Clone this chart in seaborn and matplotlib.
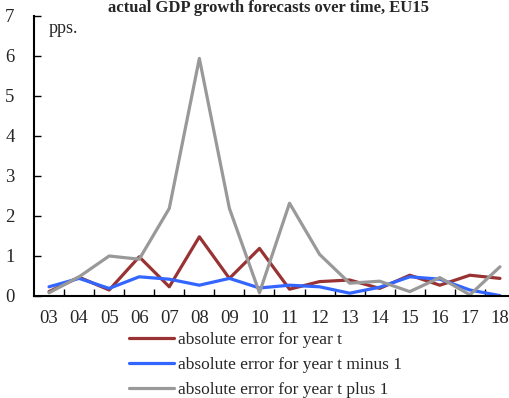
import seaborn as sns
import matplotlib.pyplot as plt
import pandas as pd

years = ['03', '04', '05', '06', '07', '08', '09', '10', '11', '12', '13', '14', '15', '16', '17', '18']
err_t = [0.11, 0.47, 0.15, 0.98, 0.23, 1.48, 0.44, 1.19, 0.17, 0.36, 0.40, 0.19, 0.52, 0.27, 0.52, 0.44]
err_t_minus_1 = [0.23, 0.44, 0.19, 0.48, 0.42, 0.27, 0.44, 0.20, 0.27, 0.23, 0.07, 0.22, 0.48, 0.42, 0.15, 0.01]
err_t_plus_1 = [0.08, 0.48, 1.00, 0.92, 2.19, 5.94, 2.19, 0.08, 2.32, 1.04, 0.32, 0.37, 0.11, 0.46, 0.03, 0.73]

labels = ['absolute error for year t', 'absolute error for year t minus 1', 'absolute error for year t plus 1']
colors = {labels[0]: '#993333', labels[1]: '#3366ff', labels[2]: '#999999'}

rows = []
for name, vals in zip(labels, [err_t, err_t_minus_1, err_t_plus_1]):
    for i, v in enumerate(vals):
        rows.append({'pos': i, 'value': v, 'series': name})
df = pd.DataFrame(rows)

sns.set_style('white')
plt.rcParams['font.family'] = ['Liberation Serif', 'DejaVu Serif']

fig = plt.figure(figsize=(5.1, 3.98), dpi=100)
ax = fig.add_axes([34 / 510, 102 / 398, 481 / 510, 280 / 398])
ax.patch.set_alpha(0)

sns.lineplot(data=df, x='pos', y='value', hue='series', hue_order=labels,
             palette=colors, linewidth=2.3, ax=ax, legend=False)

ax.set_xlim(-0.5, 15.5)
ax.set_ylim(0, 7)
ax.set_xticks(range(len(years)))
ax.set_xticklabels(years, fontsize=13.5)
ax.set_xticks([i + 0.5 for i in range(len(years) - 1)], minor=True)
ax.tick_params(axis='x', which='major', length=0, pad=10)
ax.tick_params(axis='x', which='minor', direction='in', length=5, width=1, color='black', bottom=True)
ax.set_yticks(range(8))
ax.tick_params(axis='y', direction='in', length=5, width=1, color='black', labelsize=13.5, pad=14, left=True)
ax.set_xlabel('')
ax.set_ylabel('')
for s in ['top', 'right']:
    ax.spines[s].set_visible(False)
for s in ['left', 'bottom']:
    ax.spines[s].set_color('black')
    ax.spines[s].set_linewidth(1.5)

ax.text(0.03, 0.985, 'pps.', transform=ax.transAxes, fontsize=13, va='top', ha='left')

fig.text(268 / 510, 1 - 12 / 398, 'actual GDP growth forecasts over time, EU15',
         ha='center', va='baseline', fontsize=12, fontweight='bold')

handles = [plt.Line2D([], [], color=colors[l], linewidth=2.3) for l in labels]
fig.legend(handles, labels, loc='upper left', bbox_to_anchor=(129 / 510, 1 - 332 / 398),
           frameon=False, fontsize=12.5, handlelength=2.6, handletextpad=0.2,
           labelspacing=0.5, borderpad=0, borderaxespad=0)

fig.savefig('out.png', dpi=100)
